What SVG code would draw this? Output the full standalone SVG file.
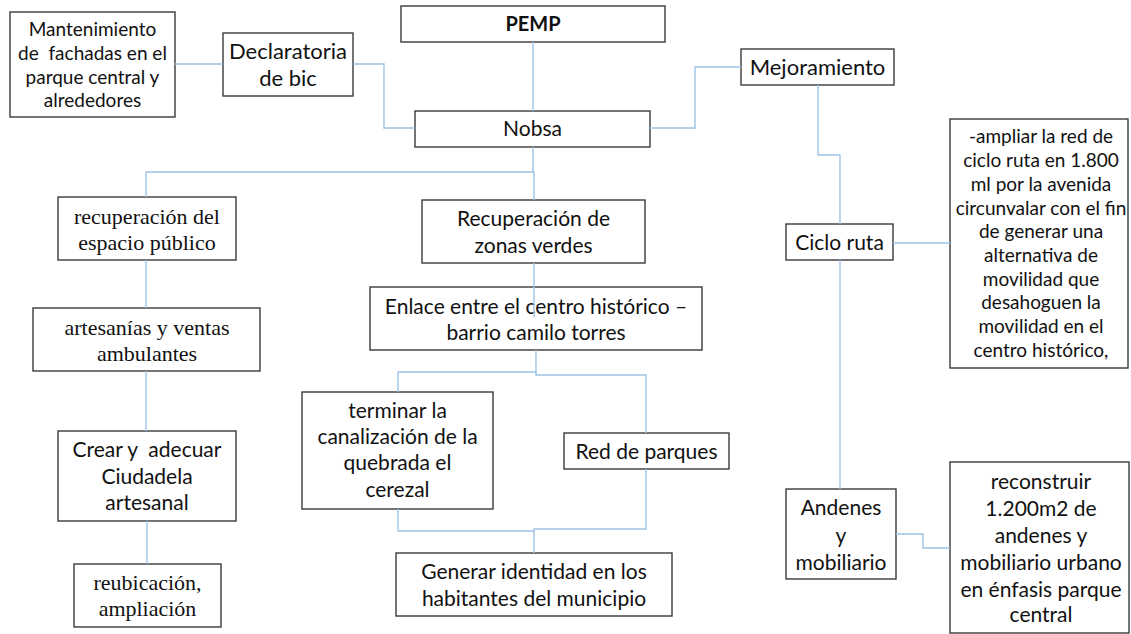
<svg xmlns="http://www.w3.org/2000/svg" width="1131" height="634" viewBox="0 0 1131 634">
<style>
.box{fill:#fff;stroke:#3a3a3a;stroke-width:1.4}
.t{font-family:Lato,"Liberation Sans",sans-serif;font-size:21px;fill:#111;text-anchor:middle}
.s{font-family:"Liberation Serif",serif;font-size:22px;fill:#111;text-anchor:middle}
.b{font-weight:bold;font-size:20px}
.sm{font-size:19px}
.c{fill:none;stroke:#9dc3e6;stroke-width:1.4}
</style>
<rect width="1131" height="634" fill="#fff"/>
<g id="nodes">
<g id="mantenimiento"><rect class="box" x="10" y="12" width="165" height="105"/>
<text class="t sm" x="92.5" y="36">Mantenimiento</text>
<text class="t sm" x="92.5" y="60" xml:space="preserve">de  fachadas en el</text>
<text class="t sm" x="92.5" y="84">parque central y</text>
<text class="t sm" x="92.5" y="107">alrededores</text></g>
<g id="declaratoria"><rect class="box" x="223" y="33" width="130" height="63"/>
<text class="t" x="288" y="59" style="font-size:22px">Declaratoria</text>
<text class="t" x="288" y="86" style="font-size:22px">de bic</text></g>
<g id="pemp"><rect class="box" x="401" y="6" width="264" height="36"/>
<text class="t b" x="533" y="31">PEMP</text></g>
<g id="nobsa"><rect class="box" x="415" y="111" width="235" height="36"/>
<text class="t" x="532.5" y="136">Nobsa</text></g>
<g id="mejoramiento"><rect class="box" x="741" y="49" width="153" height="36"/>
<text class="t" x="817.5" y="75" style="font-size:22px">Mejoramiento</text></g>
<g id="recuperacion-espacio"><rect class="box" x="58" y="197" width="178" height="63"/>
<text class="s" x="147" y="224">recuperación del</text>
<text class="s" x="147" y="250">espacio público</text></g>
<g id="zonas-verdes"><rect class="box" x="422" y="200" width="223" height="63"/>
<text class="t" x="533.5" y="226">Recuperación de</text>
<text class="t" x="533.5" y="253">zonas verdes</text></g>
<g id="enlace"><rect class="box" x="370" y="287" width="332" height="63"/>
<text class="t" x="536" y="314">Enlace entre el centro histórico –</text>
<text class="t" x="536" y="340">barrio camilo torres</text></g>
<g id="artesanias"><rect class="box" x="33" y="308" width="227" height="63"/>
<text class="s" x="147" y="335">artesanías y ventas</text>
<text class="s" x="147" y="361">ambulantes</text></g>
<g id="ciudadela"><rect class="box" x="58" y="431" width="178" height="90"/>
<text class="t" x="147" y="457" xml:space="preserve">Crear y  adecuar</text>
<text class="t" x="147" y="484">Ciudadela</text>
<text class="t" x="147" y="510">artesanal</text></g>
<g id="reubicacion"><rect class="box" x="74" y="564" width="147" height="63"/>
<text class="s" x="147.5" y="590">reubicación,</text>
<text class="s" x="147.5" y="616">ampliación</text></g>
<g id="canalizacion"><rect class="box" x="302" y="392" width="191" height="117"/>
<text class="t" x="397.5" y="418">terminar la</text>
<text class="t" x="397.5" y="444">canalización de la</text>
<text class="t" x="397.5" y="470">quebrada el</text>
<text class="t" x="397.5" y="497">cerezal</text></g>
<g id="red-parques"><rect class="box" x="564" y="433" width="165" height="36"/>
<text class="t" x="646.5" y="459">Red de parques</text></g>
<g id="identidad"><rect class="box" x="396" y="553" width="276" height="63"/>
<text class="t" x="534" y="579">Generar identidad en los</text>
<text class="t" x="534" y="606">habitantes del municipio</text></g>
<g id="ciclo-ruta"><rect class="box" x="786" y="224" width="107" height="36"/>
<text class="t" x="839.5" y="250">Ciclo ruta</text></g>
<g id="ampliar"><rect class="box" x="950" y="119" width="178" height="249"/>
<text class="t sm" x="1041" y="143">-ampliar la red de</text>
<text class="t sm" x="1041" y="167">ciclo ruta en 1.800</text>
<text class="t sm" x="1041" y="191">ml por la avenida</text>
<text class="t sm" x="1041" y="215">circunvalar con el fin</text>
<text class="t sm" x="1041" y="238">de generar una</text>
<text class="t sm" x="1041" y="262">alternativa de</text>
<text class="t sm" x="1041" y="286">movilidad que</text>
<text class="t sm" x="1041" y="309">desahoguen la</text>
<text class="t sm" x="1041" y="333">movilidad en el</text>
<text class="t sm" x="1041" y="357">centro histórico,</text></g>
<g id="andenes"><rect class="box" x="786" y="489" width="110" height="90"/>
<text class="t" x="841" y="515">Andenes</text>
<text class="t" x="841" y="543">y</text>
<text class="t" x="841" y="570">mobiliario</text></g>
<g id="reconstruir"><rect class="box" x="950" y="462" width="179" height="171"/>
<text class="t" x="1041" y="489">reconstruir</text>
<text class="t" x="1041" y="516">1.200m2 de</text>
<text class="t" x="1041" y="543">andenes y</text>
<text class="t" x="1041" y="570">mobiliario urbano</text>
<text class="t" x="1041" y="597">en énfasis parque</text>
<text class="t" x="1041" y="622">central</text></g>
</g>
<g id="connectors">
<path class="c" d="M175,64 H223"/>
<path class="c" d="M353,64 H384 V128 H415"/>
<path class="c" d="M533,42 V111"/>
<path class="c" d="M650,128 H695 V67 H741"/>
<path class="c" d="M533,147 V172 H146 V197"/>
<path class="c" d="M533,172 H534 V200"/>
<path class="c" d="M534,263 V317"/>
<path class="c" d="M146,260 V308"/>
<path class="c" d="M146,371 V431"/>
<path class="c" d="M147,521 V564"/>
<path class="c" d="M536,350 V372 H398 V392"/>
<path class="c" d="M536,372 V375 H646 V433"/>
<path class="c" d="M398,509 V531 H534"/>
<path class="c" d="M646,469 V529 H534 V553"/>
<path class="c" d="M818,85 V155 H840 V224"/>
<path class="c" d="M893,243 H950"/>
<path class="c" d="M840,260 V489"/>
<path class="c" d="M896,534 H923 V548 H950"/>
</g>
</svg>
